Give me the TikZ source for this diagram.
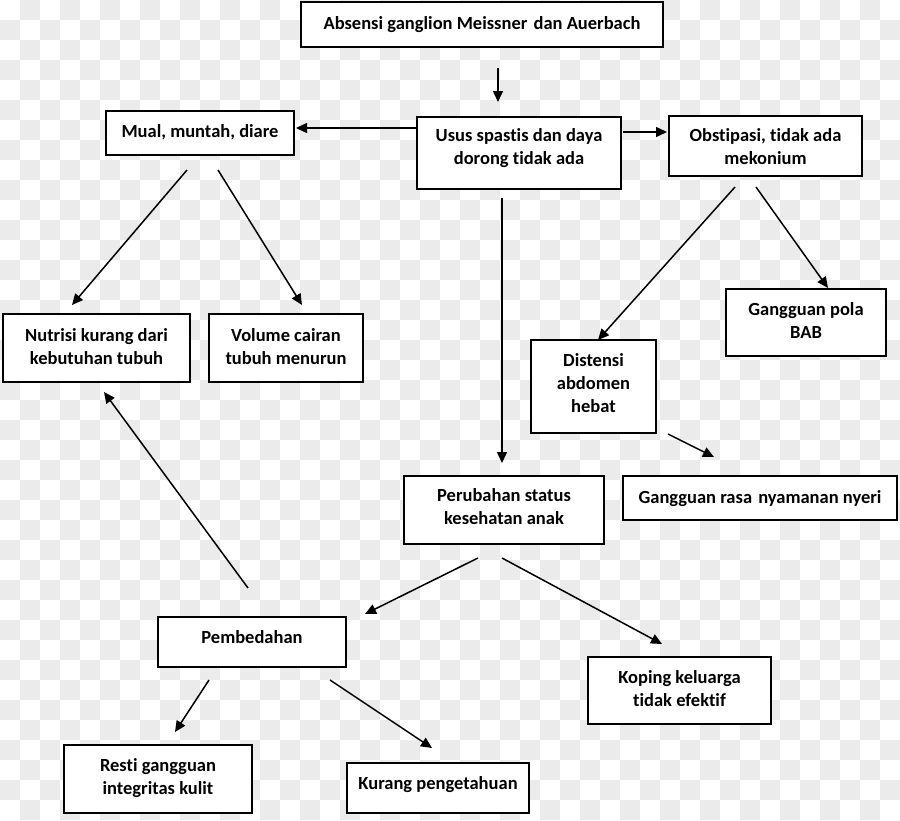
\documentclass[tikz,border=0pt]{standalone}
\usepackage{fontspec}
\setmainfont[Ligatures={NoCommon,NoRare}]{Carlito}
\usetikzlibrary{arrows.meta}
\definecolor{chk}{HTML}{EBEBEB}
\tikzset{
  box/.style={draw=black, line width=2pt, fill=white, inner sep=0pt},
  txt/.style={align=center, inner sep=0pt, font=\bfseries\fontsize{18.5}{23}\selectfont},
  arr/.style={line width=1.5pt, -{Triangle[length=11pt,width=10pt]}}
}
\begin{document}
\begin{tikzpicture}[x=1pt,y=-1pt]
\useasboundingbox (0,0) rectangle (900,820);
\fill[white] (0,0) rectangle (900,820);
\foreach \i in {0,...,44}{
  \foreach \j in {0,...,40}{
    \pgfmathtruncatemacro\s{mod(\i+\j,2)}
    \ifnum\s=1 \fill[chk] (\i*20,\j*20) rectangle ++(20,20); \fi
  }
}
\node[box, minimum width=362pt, minimum height=45pt] (absensi) at (482,24.5) {};
\node[box, minimum width=204pt, minimum height=72pt] (usus) at (519,153) {};
\node[box, minimum width=193pt, minimum height=60pt] (obst) at (765.5,146) {};
\node[box, minimum width=188pt, minimum height=44pt] (mual) at (200,133) {};
\node[box, minimum width=187pt, minimum height=68pt] (nutrisi) at (96.5,348) {};
\node[box, minimum width=154pt, minimum height=68pt] (volume) at (286,348) {};
\node[box, minimum width=160pt, minimum height=67pt] (pola) at (806,322.5) {};
\node[box, minimum width=125pt, minimum height=93pt] (distensi) at (593.5,386.5) {};
\node[box, minimum width=274pt, minimum height=44pt] (rasa) at (760,498) {};
\node[box, minimum width=200pt, minimum height=68pt] (perubahan) at (504,510) {};
\node[box, minimum width=183pt, minimum height=67pt] (koping) at (679.5,690.5) {};
\node[box, minimum width=188pt, minimum height=50pt] (pembedahan) at (252,642) {};
\node[box, minimum width=188pt, minimum height=68pt] (resti) at (158,779) {};
\node[box, minimum width=182pt, minimum height=50pt] (kurang) at (438,788) {};

\node[txt] (absensi-t) at ([yshift=0pt]absensi.center) {Absensi ganglion Meissner\hspace{2pt} dan Auerbach};
\node[txt] (usus-t) at ([yshift=4.5pt]usus.center) {Usus spastis dan daya\\dorong tidak ada};
\node[txt] (obst-t) at ([yshift=-1pt]obst.center) {Obstipasi, tidak ada\\mekonium};
\node[txt] (mual-t) at ([yshift=1pt]mual.center) {Mual, muntah, diare};
\node[txt] (nutrisi-t) at ([yshift=1.5pt]nutrisi.center) {Nutrisi kurang dari\\kebutuhan tubuh};
\node[txt] (volume-t) at ([yshift=1.5pt]volume.center) {Volume cairan\\tubuh menurun};
\node[txt] (pola-t) at ([yshift=1.5pt]pola.center) {Gangguan pola\\BAB};
\node[txt, text width=120pt] (distensi-t) at ([yshift=3pt]distensi.center) {Distensi\\abdomen\\hebat};
\node[txt] (rasa-t) at ([yshift=-1pt]rasa.center) {Gangguan rasa\hspace{2pt} nyamanan nyeri};
\node[txt] (perubahan-t) at ([yshift=3pt]perubahan.center) {Perubahan status\\kesehatan anak};
\node[txt] (koping-t) at ([yshift=2pt]koping.center) {Koping keluarga\\tidak efektif};
\node[txt] (pembedahan-t) at ([yshift=5pt]pembedahan.center) {Pembedahan};
\node[txt] (resti-t) at ([yshift=1pt]resti.center) {Resti gangguan\\integritas kulit};
\node[txt] (kurang-t) at ([yshift=3pt]kurang.center) {Kurang pengetahuan};

\draw[arr] ([shift={(16,43.5)}]absensi.center) -- ([shift={(-21,-51)}]usus.center);
\draw[arr] ([shift={(-103,-25)}]usus.center) -- ([shift={(96,-5)}]mual.center);
\draw[arr] ([shift={(104,-21)}]usus.center) -- ([shift={(-98.5,-14)}]obst.center);
\draw[arr] ([shift={(-17,45)}]usus.center) -- ([shift={(-2,-47)}]perubahan.center);
\draw[arr] ([shift={(-13,37)}]mual.center) -- ([shift={(-24.5,-43)}]nutrisi.center);
\draw[arr] ([shift={(18,37)}]mual.center) -- ([shift={(16,-43)}]volume.center);
\draw[arr] ([shift={(-30.5,41)}]obst.center) -- ([shift={(4.5,-46.5)}]distensi.center);
\draw[arr] ([shift={(-9.5,41)}]obst.center) -- ([shift={(22,-34.5)}]pola.center);
\draw[arr] ([shift={(74.5,47.5)}]distensi.center) -- ([shift={(-46,-41)}]rasa.center);
\draw[arr] ([shift={(-26,48)}]perubahan.center) -- ([shift={(113,-28)}]pembedahan.center);
\draw[arr] ([shift={(-2,48)}]perubahan.center) -- ([shift={(-17.5,-46.5)}]koping.center);
\draw[arr] ([shift={(-4,-54)}]pembedahan.center) -- ([shift={(7.5,44)}]nutrisi.center);
\draw[arr] ([shift={(-43,38)}]pembedahan.center) -- ([shift={(17,-47)}]resti.center);
\draw[arr] ([shift={(78,38)}]pembedahan.center) -- ([shift={(-6,-40)}]kurang.center);
\end{tikzpicture}
\end{document}
